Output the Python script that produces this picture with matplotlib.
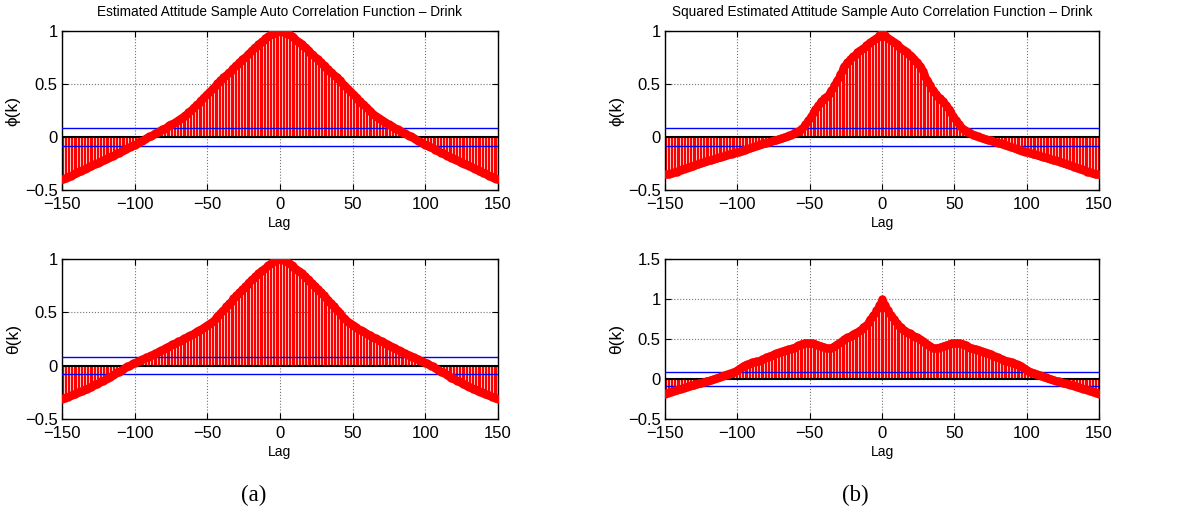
import numpy as np
import matplotlib
matplotlib.use("Agg")
import matplotlib.pyplot as plt
from matplotlib.ticker import FuncFormatter

plt.rcParams['font.family'] = ['Liberation Sans', 'DejaVu Sans']

# sample ACF values for lags 0..150 (the ACF is symmetric, negative lags are mirrored)
phi_est = [
    1.000, 0.998, 0.994, 0.989, 0.983, 0.977, 0.968, 0.959, 0.950, 0.940, 0.930,
    0.919, 0.908, 0.897, 0.886, 0.875, 0.862, 0.849, 0.836, 0.823, 0.810,
    0.797, 0.784, 0.771, 0.758, 0.745, 0.732, 0.719, 0.706, 0.693, 0.680,
    0.667, 0.654, 0.641, 0.628, 0.615, 0.602, 0.589, 0.576, 0.563, 0.550,
    0.536, 0.522, 0.508, 0.494, 0.480, 0.466, 0.452, 0.438, 0.424, 0.410,
    0.396, 0.382, 0.368, 0.354, 0.340, 0.326, 0.312, 0.298, 0.284, 0.270,
    0.258, 0.246, 0.234, 0.222, 0.210, 0.200, 0.190, 0.180, 0.170, 0.160,
    0.152, 0.144, 0.136, 0.128, 0.120, 0.112, 0.104, 0.096, 0.088, 0.080,
    0.073, 0.065, 0.058, 0.050, 0.043, 0.035, 0.028, 0.020, 0.013, 0.006,
    -0.002, -0.010, -0.018, -0.025, -0.033, -0.040, -0.048, -0.055, -0.063, -0.070,
    -0.077, -0.084, -0.091, -0.098, -0.105, -0.112, -0.119, -0.126, -0.133, -0.140,
    -0.147, -0.154, -0.161, -0.168, -0.175, -0.181, -0.187, -0.193, -0.199, -0.205,
    -0.212, -0.219, -0.226, -0.233, -0.240, -0.246, -0.252, -0.258, -0.264, -0.270,
    -0.277, -0.284, -0.291, -0.298, -0.305, -0.311, -0.317, -0.323, -0.329, -0.335,
    -0.342, -0.349, -0.356, -0.363, -0.370, -0.376, -0.382, -0.388, -0.394, -0.400,
]

theta_est = [
    1.000, 0.997, 0.993, 0.988, 0.982, 0.975, 0.966, 0.956, 0.945, 0.933, 0.920,
    0.909, 0.898, 0.887, 0.876, 0.865, 0.852, 0.839, 0.826, 0.813, 0.800,
    0.786, 0.772, 0.758, 0.744, 0.730, 0.716, 0.702, 0.688, 0.674, 0.660,
    0.645, 0.630, 0.615, 0.600, 0.585, 0.570, 0.555, 0.540, 0.525, 0.510,
    0.494, 0.478, 0.463, 0.449, 0.435, 0.423, 0.411, 0.399, 0.388, 0.378,
    0.370, 0.362, 0.354, 0.346, 0.338, 0.330, 0.322, 0.314, 0.306, 0.298,
    0.291, 0.284, 0.276, 0.269, 0.262, 0.255, 0.248, 0.241, 0.234, 0.227,
    0.220, 0.213, 0.206, 0.199, 0.192, 0.185, 0.178, 0.171, 0.164, 0.157,
    0.150, 0.143, 0.136, 0.129, 0.122, 0.116, 0.109, 0.103, 0.097, 0.090,
    0.084, 0.078, 0.072, 0.066, 0.060, 0.054, 0.048, 0.041, 0.035, 0.028,
    0.021, 0.014, 0.007, 0.000, -0.007, -0.015, -0.023, -0.031, -0.039, -0.047,
    -0.055, -0.063, -0.071, -0.079, -0.087, -0.095, -0.103, -0.111, -0.119, -0.127,
    -0.134, -0.141, -0.148, -0.155, -0.162, -0.169, -0.176, -0.183, -0.190, -0.197,
    -0.203, -0.209, -0.215, -0.221, -0.227, -0.233, -0.239, -0.245, -0.251, -0.257,
    -0.263, -0.269, -0.274, -0.279, -0.284, -0.289, -0.294, -0.299, -0.304, -0.310,
]

phi_sq = [
    1.000, 0.975, 0.960, 0.945, 0.935, 0.925, 0.915, 0.905, 0.895, 0.885, 0.875,
    0.864, 0.853, 0.842, 0.831, 0.820, 0.809, 0.798, 0.787, 0.776, 0.765,
    0.751, 0.736, 0.721, 0.706, 0.690, 0.670, 0.648, 0.624, 0.598, 0.570,
    0.543, 0.516, 0.490, 0.466, 0.443, 0.422, 0.405, 0.392, 0.380, 0.368,
    0.354, 0.339, 0.323, 0.306, 0.287, 0.267, 0.246, 0.224, 0.202, 0.180,
    0.159, 0.139, 0.120, 0.104, 0.090, 0.079, 0.069, 0.060, 0.052, 0.045,
    0.038, 0.031, 0.024, 0.018, 0.012, 0.007, 0.002, -0.003, -0.008, -0.012,
    -0.016, -0.020, -0.024, -0.028, -0.032, -0.036, -0.040, -0.044, -0.048, -0.052,
    -0.056, -0.060, -0.064, -0.068, -0.072, -0.077, -0.081, -0.086, -0.090, -0.095,
    -0.100, -0.104, -0.109, -0.113, -0.118, -0.122, -0.127, -0.131, -0.136, -0.140,
    -0.144, -0.148, -0.152, -0.156, -0.160, -0.164, -0.168, -0.172, -0.176, -0.180,
    -0.184, -0.188, -0.192, -0.196, -0.200, -0.204, -0.208, -0.212, -0.216, -0.220,
    -0.224, -0.228, -0.232, -0.236, -0.240, -0.245, -0.250, -0.255, -0.260, -0.265,
    -0.270, -0.275, -0.280, -0.285, -0.290, -0.295, -0.300, -0.305, -0.310, -0.315,
    -0.320, -0.325, -0.330, -0.334, -0.338, -0.341, -0.344, -0.346, -0.348, -0.350,
]

theta_sq = [
    1.000, 0.960, 0.925, 0.890, 0.860, 0.830, 0.800, 0.775, 0.750, 0.725, 0.700,
    0.680, 0.660, 0.645, 0.630, 0.615, 0.600, 0.590, 0.580, 0.570, 0.560,
    0.550, 0.540, 0.530, 0.520, 0.510, 0.500, 0.488, 0.476, 0.463, 0.450,
    0.438, 0.425, 0.412, 0.400, 0.390, 0.385, 0.385, 0.388, 0.393, 0.400,
    0.406, 0.412, 0.418, 0.424, 0.430, 0.437, 0.443, 0.448, 0.452, 0.455,
    0.456, 0.455, 0.452, 0.448, 0.443, 0.436, 0.428, 0.420, 0.410, 0.400,
    0.393, 0.387, 0.381, 0.375, 0.370, 0.364, 0.358, 0.352, 0.346, 0.340,
    0.334, 0.328, 0.322, 0.316, 0.310, 0.302, 0.294, 0.286, 0.278, 0.270,
    0.262, 0.254, 0.246, 0.238, 0.230, 0.226, 0.222, 0.218, 0.214, 0.210,
    0.202, 0.194, 0.186, 0.178, 0.170, 0.158, 0.146, 0.134, 0.122, 0.110,
    0.102, 0.094, 0.086, 0.078, 0.070, 0.064, 0.058, 0.052, 0.046, 0.040,
    0.034, 0.028, 0.022, 0.016, 0.010, 0.004, -0.002, -0.008, -0.014, -0.020,
    -0.025, -0.030, -0.035, -0.040, -0.045, -0.050, -0.055, -0.060, -0.065, -0.070,
    -0.075, -0.080, -0.086, -0.092, -0.098, -0.104, -0.110, -0.116, -0.121, -0.125,
    -0.130, -0.136, -0.142, -0.148, -0.154, -0.160, -0.166, -0.172, -0.180, -0.190,
]

conf_bound = 0.082
titles = ['Estimated Attitude Sample Auto Correlation Function \u2013 Drink',
          'Squared Estimated Attitude Sample Auto Correlation Function \u2013 Drink']
captions = ['(a)', '(b)']

lags = np.arange(-150, 151)


def mirror(half):
    half = np.array(half)
    return np.concatenate([half[:0:-1], half])


def minus_fmt(v, pos):
    return ('%g' % v).replace('-', '\u2212')


def acf_panel(ax, vals, ylabel, yticks, title=None):
    ax.grid(True, linestyle=':', color='0.45', linewidth=0.8)
    ax.set_axisbelow(True)
    markerline, stemlines, baseline = ax.stem(lags, mirror(vals), linefmt='r-',
                                              markerfmt='ro', basefmt='k-')
    plt.setp(stemlines, linewidth=0.9, color='red')
    plt.setp(markerline, markersize=5, color='red', markeredgecolor='red', zorder=5)
    plt.setp(baseline, linewidth=1.5, color='black', zorder=3)
    ax.axhline(conf_bound, color='blue', linewidth=1.0, zorder=4)
    ax.axhline(-conf_bound, color='blue', linewidth=1.0, zorder=4)
    ax.set_xlim(-150, 150)
    ax.set_ylim(yticks[0], yticks[-1])
    ax.set_xticks([-150, -100, -50, 0, 50, 100, 150])
    ax.set_yticks(yticks)
    ax.xaxis.set_major_formatter(FuncFormatter(minus_fmt))
    ax.yaxis.set_major_formatter(FuncFormatter(minus_fmt))
    ax.tick_params(direction='in', top=True, right=True, length=4,
                   labelsize=12, pad=3)
    ax.tick_params(axis='x', pad=5)
    for s in ax.spines.values():
        s.set_linewidth(1.0)
    ax.set_xlabel('Lag', fontsize=10, labelpad=3)
    ax.set_ylabel(ylabel, fontsize=12.5, labelpad=3)
    if title:
        ax.set_title(title, fontsize=9.8, pad=11)


fig = plt.figure(figsize=(12.03, 5.11), dpi=100)

ax1 = fig.add_axes([0.0515, 0.628, 0.3624, 0.3112])
ax2 = fig.add_axes([0.5528, 0.628, 0.3608, 0.3112])
ax3 = fig.add_axes([0.0515, 0.180, 0.3624, 0.3131])
ax4 = fig.add_axes([0.5528, 0.180, 0.3608, 0.3131])

acf_panel(ax1, phi_est, '\u03d5(k)', [-0.5, 0, 0.5, 1], titles[0])
acf_panel(ax2, phi_sq, '\u03d5(k)', [-0.5, 0, 0.5, 1], titles[1])
acf_panel(ax3, theta_est, '\u03b8(k)', [-0.5, 0, 0.5, 1])
acf_panel(ax4, theta_sq, '\u03b8(k)', [-0.5, 0, 0.5, 1, 1.5])

fig.text(254 / 1203, 1 - 495 / 511, captions[0], ha='center', va='center',
         fontsize=16.5, family=['Liberation Serif', 'DejaVu Serif'])
fig.text(855 / 1203, 1 - 495 / 511, captions[1], ha='center', va='center',
         fontsize=16.5, family=['Liberation Serif', 'DejaVu Serif'])

fig.savefig('out.png', dpi=100)
